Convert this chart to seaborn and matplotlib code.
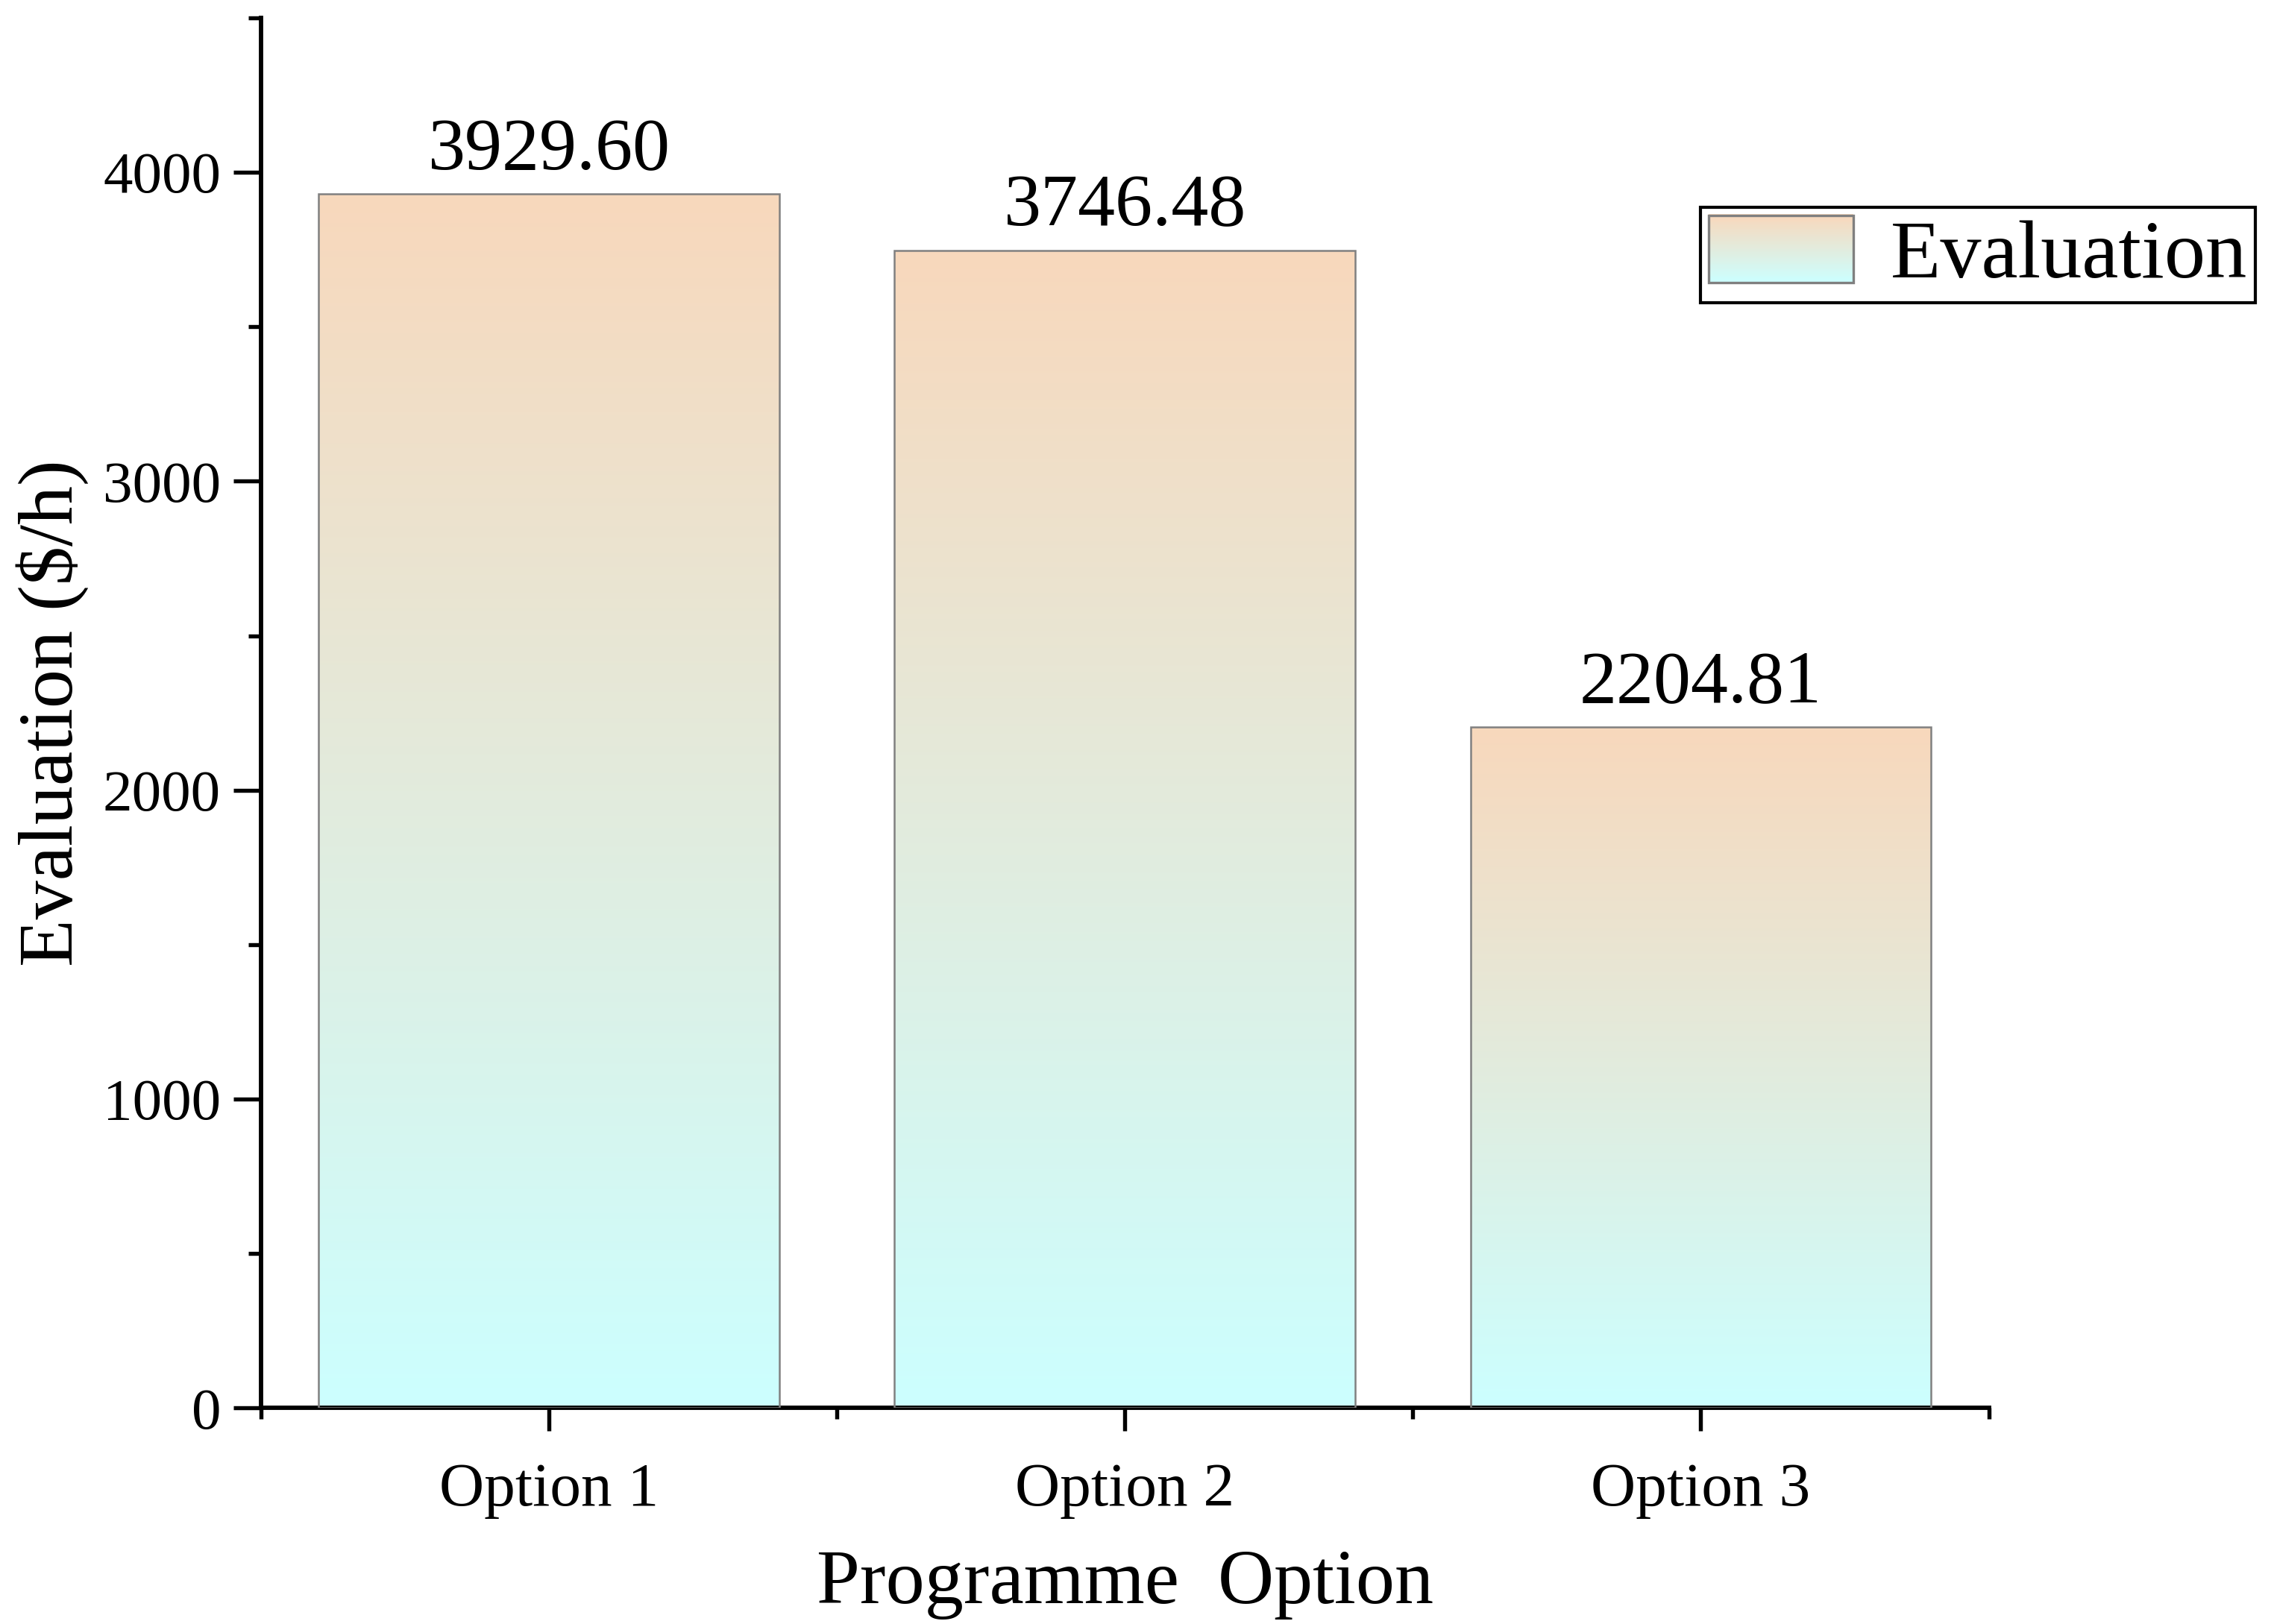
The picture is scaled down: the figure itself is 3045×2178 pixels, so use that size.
import numpy as np
import pandas as pd
import matplotlib
matplotlib.use("Agg")
import matplotlib.pyplot as plt
import seaborn as sns
from matplotlib.legend_handler import HandlerBase
from matplotlib.patches import Rectangle, Patch
from matplotlib.colors import to_rgb
from matplotlib.ticker import MultipleLocator, FixedLocator

# ---- data ----
categories = ["Option 1", "Option 2", "Option 3"]
values = [3929.60, 3746.48, 2204.81]
value_labels = ["3929.60", "3746.48", "2204.81"]
yticks = [0, 1000, 2000, 3000, 4000]
series_name = "Evaluation"

top_color = "#F8D8BC"
bottom_color = "#CCFFFF"

sns.set_theme(style="ticks")
plt.rcParams["font.family"] = ["Liberation Serif", "DejaVu Serif"]
plt.rcParams.update({"text.color": "black", "axes.labelcolor": "black",
                     "xtick.color": "black", "ytick.color": "black"})

fig = plt.figure(figsize=(3045 / 300, 2178 / 300), dpi=300)
ax = fig.add_axes([0.115, 0.133, 0.7607, 0.856])

df = pd.DataFrame({"cat": categories, "val": values})
sns.barplot(data=df, x="cat", y="val", ax=ax, width=0.8, color=top_color,
            edgecolor="#808080", linewidth=0.6, zorder=3)

# gradient fill per bar
c_top = np.array(to_rgb(top_color))
c_bot = np.array(to_rgb(bottom_color))
t = np.linspace(0, 1, 256)[:, None]
grad = (c_top[None, :] * (1 - t) + c_bot[None, :] * t)[:, None, :]

for p in list(ax.patches):
    x, y = p.get_x(), p.get_y()
    w, h = p.get_width(), p.get_height()
    im = ax.imshow(grad, extent=[x, x + w, y, y + h], aspect="auto",
                   origin="upper", zorder=2, interpolation="bilinear")
    im.set_clip_path(p)
    p.set_facecolor("none")

ax.set_xlim(-0.5, 2.5)
ax.set_ylim(0, 4500)

# value labels
for i, (v, lab) in enumerate(zip(values, value_labels)):
    ax.annotate(lab, (i, v), xytext=(0, 3), textcoords="offset points",
                ha="center", va="bottom", fontsize=24, color="black")

# spines
sns.despine(ax=ax)
for s in ["left", "bottom"]:
    ax.spines[s].set_linewidth(1.4)
    ax.spines[s].set_color("black")

ax.yaxis.set_major_locator(FixedLocator(yticks))
ax.yaxis.set_minor_locator(MultipleLocator(500))
ax.xaxis.set_minor_locator(FixedLocator([-0.5, 0.5, 1.5, 2.5]))
ax.tick_params(axis="y", which="major", length=9, width=1.3, labelsize=19,
               color="black", labelcolor="black", pad=4)
ax.tick_params(axis="y", which="minor", length=4.2, width=1.3, color="black")
ax.tick_params(axis="x", which="major", length=7.5, width=1.3, labelsize=20,
               color="black", labelcolor="black", pad=10)
ax.tick_params(axis="x", which="minor", length=3.6, width=1.3, color="black")

ax.set_xlabel("Programme  Option", fontsize=25, labelpad=10, color="black")
ax.set_ylabel("Evaluation ($/h)", fontsize=25, labelpad=8, color="black")
ax.yaxis.set_label_coords(-0.1, 0.5)


class GradientHandler(HandlerBase):
    def create_artists(self, legend, orig_handle, xdescent, ydescent,
                       width, height, fontsize, trans):
        arts = []
        n = 40
        for k in range(n):
            frac = k / (n - 1)
            col = c_bot * (1 - frac) + c_top * frac
            r = Rectangle((-xdescent, -ydescent + height * k / n), width,
                          height / n + 0.3, facecolor=col, edgecolor="none",
                          transform=trans)
            arts.append(r)
        border = Rectangle((-xdescent, -ydescent), width, height,
                           facecolor="none", edgecolor="#808080", lw=0.8,
                           transform=trans)
        arts.append(border)
        return arts


handle = Patch(facecolor=top_color, label=series_name)
leg = ax.legend(handles=[handle], labels=[series_name],
                handler_map={Patch: GradientHandler()},
                loc="upper right", bbox_to_anchor=(0.993, 0.8725),
                bbox_transform=fig.transFigure, fontsize=26.5, frameon=True,
                fancybox=False, edgecolor="black", handlelength=1.75,
                handleheight=0.88, borderpad=0.1, handletextpad=0.45,
                borderaxespad=0)
leg.get_frame().set_linewidth(1.0)
leg.get_frame().set_alpha(1)
for txt in leg.get_texts():
    txt.set_color("black")

fig.savefig("out.png", dpi=300)
